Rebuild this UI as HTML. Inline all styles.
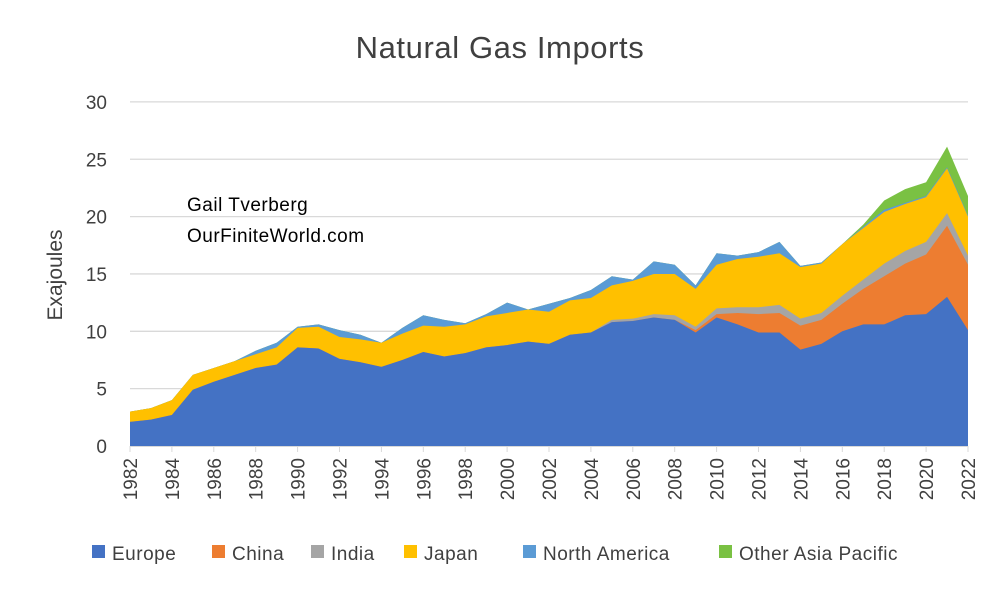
<!DOCTYPE html>
<html><head><meta charset="utf-8"><style>
body{margin:0;background:#fff;}
svg{display:block;font-family:"Liberation Sans",sans-serif;}
</style></head><body>
<svg id="s" width="1000" height="595" viewBox="0 0 1000 595">
<text x="500" y="58" font-size="31" fill="#404040" text-anchor="middle" letter-spacing="0.6">Natural Gas Imports</text>
<g id="grid"></g>
<g id="areas"></g>
<g id="ticks"></g>
<text transform="translate(62,275) rotate(-90)" font-size="21" fill="#404040" text-anchor="middle">Exajoules</text>
<text x="187" y="211" font-size="19" fill="#000" letter-spacing="0.5">Gail Tverberg</text>
<text x="187" y="242" font-size="19" fill="#000" letter-spacing="0.5">OurFiniteWorld.com</text>
<g font-size="19" fill="#404040" letter-spacing="0.5">
<rect x="92" y="545" width="13" height="13" fill="#4472C4"/><text x="112" y="560">Europe</text>
<rect x="212" y="545" width="13" height="13" fill="#ED7D31"/><text x="232" y="560">China</text>
<rect x="311" y="545" width="13" height="13" fill="#A5A5A5"/><text x="331" y="560">India</text>
<rect x="404" y="545" width="13" height="13" fill="#FFC000"/><text x="424" y="560">Japan</text>
<rect x="523" y="545" width="13" height="13" fill="#5B9BD5"/><text x="543" y="560">North America</text>
<rect x="719" y="545" width="13" height="13" fill="#7AC143"/><text x="739" y="560">Other Asia Pacific</text>
</g>
</svg>
<script>
var NS="http://www.w3.org/2000/svg";
function X(y){return 130+(y-1982)*20.95;}
function Y(v){return 446-v*11.47;}
var d=[
[2.1,2.1,2.1,3.0,3.0,3.0],[2.3,2.3,2.3,3.3,3.3,3.3],[2.7,2.7,2.7,4.0,4.0,4.0],
[4.9,4.9,4.9,6.2,6.2,6.2],[5.6,5.6,5.6,6.8,6.8,6.8],[6.2,6.2,6.2,7.4,7.4,7.4],
[6.8,6.8,6.8,8.0,8.3,8.3],[7.1,7.1,7.1,8.6,9.0,9.0],[8.6,8.6,8.6,10.3,10.4,10.4],
[8.5,8.5,8.5,10.4,10.6,10.6],[7.6,7.6,7.6,9.5,10.1,10.1],[7.3,7.3,7.3,9.3,9.7,9.7],
[6.9,6.9,6.9,9.0,9.0,9.0],[7.5,7.5,7.5,9.8,10.3,10.3],[8.2,8.2,8.2,10.5,11.4,11.4],
[7.8,7.8,7.8,10.4,11.0,11.0],[8.1,8.1,8.1,10.6,10.7,10.7],[8.6,8.6,8.6,11.3,11.5,11.5],
[8.8,8.8,8.8,11.6,12.5,12.5],[9.1,9.1,9.1,11.9,11.9,11.9],[8.9,8.9,8.9,11.7,12.4,12.4],
[9.7,9.7,9.7,12.7,12.9,12.9],[9.9,9.9,9.9,12.9,13.6,13.6],[10.8,10.8,11.0,14.0,14.8,14.8],
[10.9,10.9,11.1,14.4,14.5,14.5],[11.2,11.2,11.5,15.0,16.1,16.1],[11.0,11.0,11.4,15.0,15.8,15.8],
[9.9,10.1,10.4,13.7,14.0,14.0],[11.2,11.5,12.0,15.8,16.8,16.8],[10.6,11.6,12.1,16.3,16.6,16.6],
[9.9,11.5,12.1,16.5,16.9,16.9],[9.9,11.6,12.3,16.8,17.8,17.8],[8.4,10.5,11.1,15.6,15.7,15.7],
[8.9,11.0,11.6,15.9,16.0,16.0],[10.0,12.4,13.1,17.6,17.6,17.6],[10.6,13.7,14.5,19.0,19.1,19.3],
[10.6,14.8,15.9,20.4,20.6,21.4],[11.4,15.9,17.0,21.1,21.2,22.4],[11.5,16.7,17.8,21.7,21.8,23.0],
[13.0,19.2,20.3,24.2,24.3,26.1],[10.1,15.8,16.6,20.0,20.1,21.8]];
var cols=["#4472C4","#ED7D31","#A5A5A5","#FFC000","#5B9BD5","#7AC143"];
var g=document.getElementById("grid"),a=document.getElementById("areas"),t=document.getElementById("ticks");
for(var v=0;v<=30;v+=5){var l=document.createElementNS(NS,"line");l.setAttribute("x1",130);l.setAttribute("x2",968);l.setAttribute("y1",Y(v));l.setAttribute("y2",Y(v));l.setAttribute("stroke","#d9d9d9");l.setAttribute("stroke-width","1.3");g.appendChild(l);
var tx=document.createElementNS(NS,"text");tx.setAttribute("x",107);tx.setAttribute("y",Y(v)+7);tx.setAttribute("text-anchor","end");tx.setAttribute("font-size","19");tx.setAttribute("fill","#404040");tx.textContent=v;t.appendChild(tx);}
for(var k=5;k>=0;k--){var p=[];for(var i=0;i<d.length;i++)p.push(X(1982+i)+","+Y(d[i][k]));p.push(X(2022)+","+Y(0));p.push(X(1982)+","+Y(0));
var pg=document.createElementNS(NS,"polygon");pg.setAttribute("points",p.join(" "));pg.setAttribute("fill",cols[k]);a.appendChild(pg);}
var ax=document.createElementNS(NS,"line");ax.setAttribute("x1",130);ax.setAttribute("x2",968);ax.setAttribute("y1",446.5);ax.setAttribute("y2",446.5);ax.setAttribute("stroke","#d9d9d9");t.appendChild(ax);
for(var y=1982;y<=2022;y+=2){var tk=document.createElementNS(NS,"line");tk.setAttribute("x1",X(y));tk.setAttribute("x2",X(y));tk.setAttribute("y1",446);tk.setAttribute("y2",452);tk.setAttribute("stroke","#d9d9d9");t.appendChild(tk);
var tl=document.createElementNS(NS,"text");tl.setAttribute("transform","translate("+(X(y)+7)+",458) rotate(-90)");tl.setAttribute("text-anchor","end");tl.setAttribute("font-size","19");tl.setAttribute("fill","#404040");tl.textContent=y;t.appendChild(tl);}
</script>
</body></html>
